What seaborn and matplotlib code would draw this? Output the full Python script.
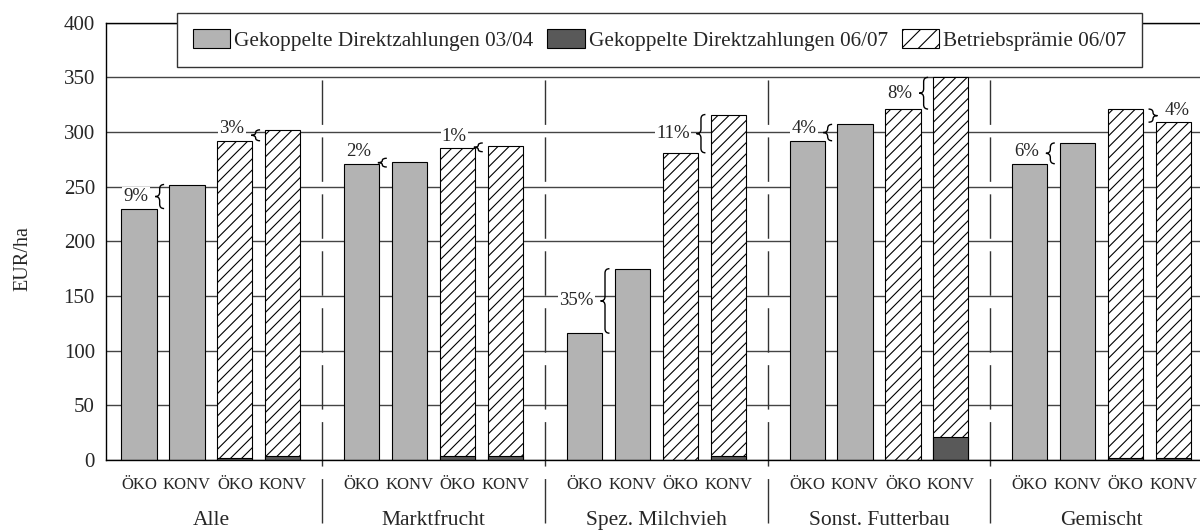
import pandas as pd
import matplotlib.pyplot as plt
import matplotlib.transforms as mtransforms
import seaborn as sns
from matplotlib.patches import Patch, PathPatch
from matplotlib.path import Path

# Daten (EUR/ha)
groups = ["Alle", "Marktfrucht", "Spez. Milchvieh", "Sonst. Futterbau", "Gemischt"]
series = ["ÖKO 03/04", "KONV 03/04", "ÖKO 06/07", "KONV 06/07"]
bar_labels = ["ÖKO", "KONV", "ÖKO", "KONV"]
legend_labels = ["Gekoppelte Direktzahlungen 03/04",
                 "Gekoppelte Direktzahlungen 06/07",
                 "Betriebsprämie 06/07"]

direkt_0304_oeko = [230, 271, 116, 292, 271]
direkt_0304_konv = [252, 273, 175, 307, 290]
direkt_0607_oeko = [2, 4, 0, 0, 2]
direkt_0607_konv = [4, 4, 4, 21, 2]
praemie_0607_oeko = [290, 281, 281, 321, 319]
praemie_0607_konv = [298, 283, 312, 329, 307]

pct_group = [0, 0, 1, 1, 2, 2, 3, 3, 4, 4]
pct_period = ["03/04", "06/07"] * 5
pct_text = ["9%", "3%", "2%", "1%", "35%", "11%", "4%", "8%", "6%", "4%"]

# long format
rows_total, rows_dark = [], []
for i, g in enumerate(groups):
    tot = [direkt_0304_oeko[i], direkt_0304_konv[i],
           direkt_0607_oeko[i] + praemie_0607_oeko[i],
           direkt_0607_konv[i] + praemie_0607_konv[i]]
    drk = [0, 0, direkt_0607_oeko[i], direkt_0607_konv[i]]
    for s, t, d in zip(series, tot, drk):
        rows_total.append({"Gruppe": g, "Serie": s, "EUR": t})
        rows_dark.append({"Gruppe": g, "Serie": s, "EUR": d})
df_total = pd.DataFrame(rows_total)
df_dark = pd.DataFrame(rows_dark)

sns.set_style("white")
plt.rcParams["font.family"] = ["Liberation Serif", "DejaVu Serif"]
plt.rcParams["hatch.linewidth"] = 0.8

grey = "#b3b3b3"
dark = "#595959"

fig = plt.figure(figsize=(12, 5.31), dpi=100)
ax = fig.add_axes([106 / 1200, 71 / 531, 1107 / 1200, 437.3 / 531])

sns.barplot(data=df_total, x="Gruppe", y="EUR", hue="Serie", order=groups,
            hue_order=series, palette={s: grey for s in series}, width=0.862,
            gap=0.27, saturation=1, errorbar=None, edgecolor="black",
            linewidth=0.8, legend=False, ax=ax)
for cont in ax.containers[2:4]:
    for p in cont:
        p.set_facecolor("white")
        p.set_hatch("///")

sns.barplot(data=df_dark, x="Gruppe", y="EUR", hue="Serie", order=groups,
            hue_order=series, palette={s: dark for s in series}, width=0.862,
            gap=0.27, saturation=1, errorbar=None, edgecolor="black",
            linewidth=0.8, legend=False, ax=ax)
for cont in ax.containers[4:6]:
    for p in cont:
        p.set_visible(False)

ax.set_xlim(-0.4715, 4.5)
ax.set_ylim(0, 400)
ax.set_yticks(range(0, 401, 50))
ax.tick_params(axis="y", length=0, labelsize=15, pad=8)
ax.yaxis.grid(True, color="#444444", lw=1)
ax.xaxis.grid(False)
ax.set_axisbelow(True)
ax.spines["right"].set_visible(False)
for sp in ["left", "bottom", "top"]:
    ax.spines[sp].set_color("black")
    ax.spines[sp].set_linewidth(1)

# Achsenbeschriftung: ÖKO/KONV unter den Balken, Gruppen darunter
xs, labs = [], []
for k in range(4):
    for p in ax.containers[k]:
        xs.append(p.get_x() + p.get_width() / 2)
        labs.append(bar_labels[k])
ax.set_xticks(xs, labs)
ax.tick_params(axis="x", which="major", length=0, labelsize=12, pad=12)
ax.set_xticks(range(len(groups)), groups, minor=True)
ax.tick_params(axis="x", which="minor", length=0, labelsize=15.5, pad=37)
ax.set_xlabel("")
ax.set_ylabel("EUR/ha", fontsize=14.5)
ax.yaxis.set_label_coords(-0.0665, 0.46)

# Trennlinien zwischen Gruppen
trans = mtransforms.blended_transform_factory(ax.transData, ax.transAxes)
for x in [i + 0.5 for i in range(len(groups) - 1)]:
    ax.plot([x, x], [1.0, -0.165], transform=trans, clip_on=False,
            color="#333333", lw=1, ls=(0, (32, 9)), zorder=1.5)


def brace(ax, x_end, x_tip, lo, hi):
    mid = (lo + hi) / 2
    r = min((hi - lo) / 4, 4)
    xm = (x_end + x_tip) / 2
    verts = [(x_end, hi), (xm, hi), (xm, hi - r), (xm, mid + r),
             (xm, mid), (x_tip, mid), (xm, mid), (xm, mid - r),
             (xm, lo + r), (xm, lo), (x_end, lo)]
    codes = [Path.MOVETO, Path.CURVE3, Path.CURVE3, Path.LINETO,
             Path.CURVE3, Path.CURVE3, Path.CURVE3, Path.CURVE3,
             Path.LINETO, Path.CURVE3, Path.CURVE3]
    ax.add_patch(PathPatch(Path(verts, codes), fc="none", ec="black",
                           lw=1, zorder=3))


bw = 0.04
for g, per, txt in zip(pct_group, pct_period, pct_text):
    k = 0 if per == "03/04" else 2
    left = ax.containers[k][g]
    right = ax.containers[k + 1][g]
    h_l, h_r = left.get_height(), right.get_height()
    lo, hi = min(h_l, h_r), max(h_l, h_r)
    mid = (lo + hi) / 2
    if hi - lo < 8:
        lo, hi = mid - 4, mid + 4
    gx = (left.get_x() + left.get_width() + right.get_x()) / 2
    ty = max(mid, min(h_l, h_r) + 11)
    if h_l <= h_r:
        x_end, x_tip = gx + 0.005, gx + 0.005 - bw
        brace(ax, x_end, x_tip, lo, hi)
        ax.annotate(txt, xy=(x_tip, ty), xytext=(-5, 0),
                    textcoords="offset points", ha="right", va="center",
                    fontsize=13.5, zorder=4,
                    bbox=dict(fc="white", ec="none", pad=1))
    else:
        x_end, x_tip = gx - 0.005, gx - 0.005 + bw
        brace(ax, x_end, x_tip, lo, hi)
        ax.annotate(txt, xy=(x_tip, ty), xytext=(5, 0),
                    textcoords="offset points", ha="left", va="center",
                    fontsize=13.5, zorder=4,
                    bbox=dict(fc="white", ec="none", pad=1))

handles = [
    Patch(facecolor=grey, edgecolor="black", lw=0.8, label=legend_labels[0]),
    Patch(facecolor=dark, edgecolor="black", lw=0.8, label=legend_labels[1]),
    Patch(facecolor="white", edgecolor="black", lw=0.8, hatch="//",
          label=legend_labels[2]),
]
leg = ax.legend(handles=handles, loc="upper left",
                bbox_to_anchor=(177 / 1200, 1 - 13.3 / 531),
                bbox_transform=fig.transFigure, ncol=3, fontsize=15.3,
                frameon=True, fancybox=False, framealpha=1,
                edgecolor="#333333", handlelength=1.75, handleheight=1.0,
                handletextpad=0.2, columnspacing=0.65, borderpad=0.75,
                borderaxespad=0)
leg.get_frame().set_linewidth(1)

fig.savefig("out.png", dpi=100)
